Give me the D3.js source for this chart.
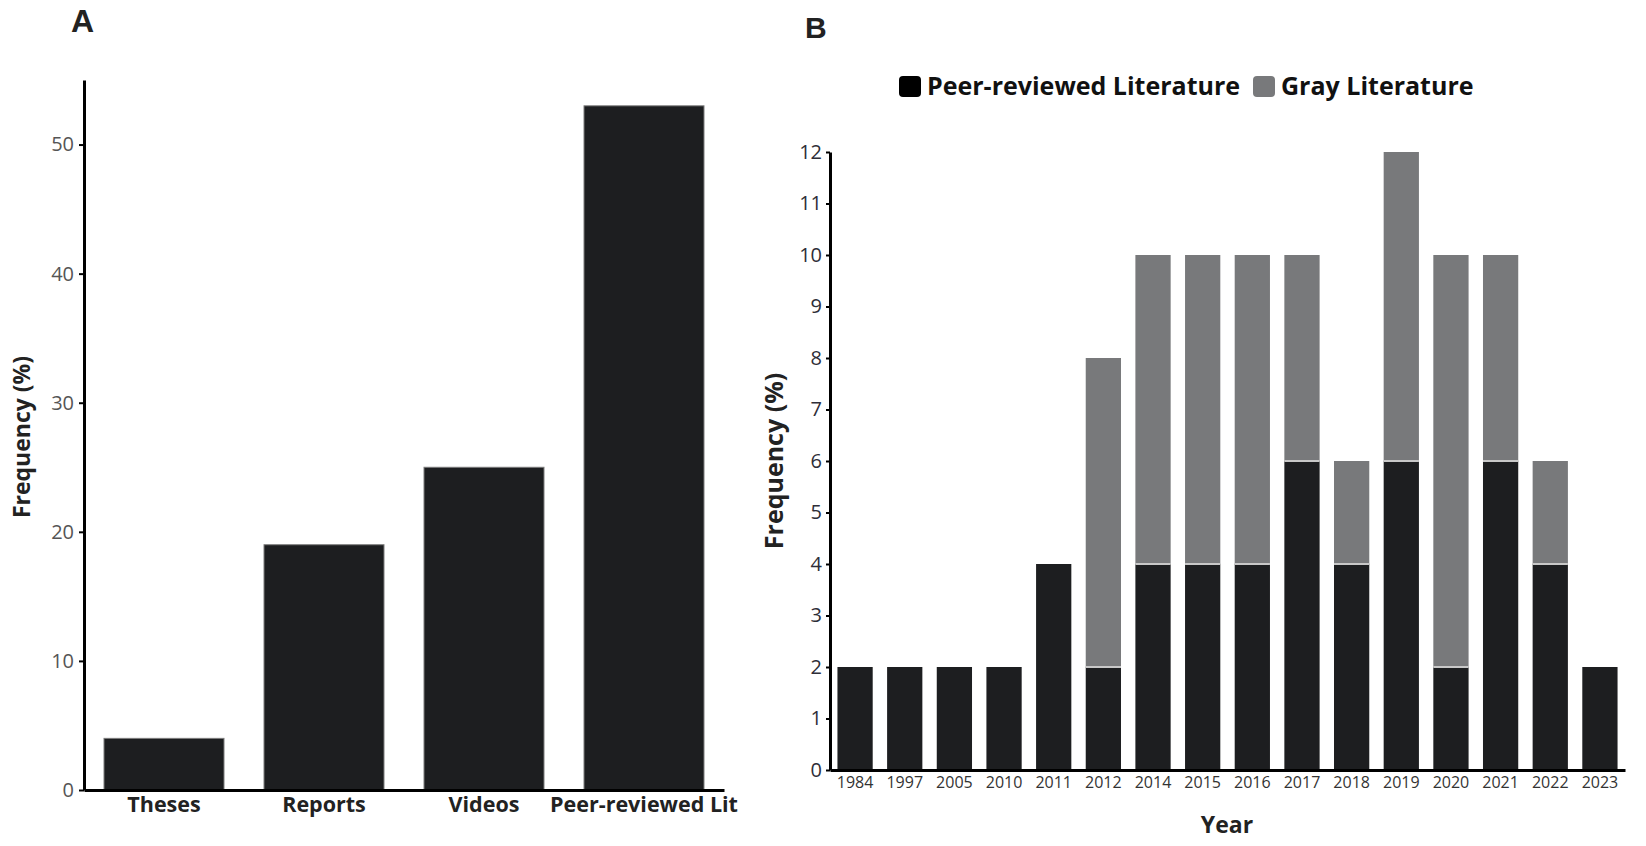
<!DOCTYPE html>
<html>
<head>
<meta charset="utf-8">
<script src="https://cdn.jsdelivr.net/npm/d3@7"></script>
<style>
  html, body { margin: 0; padding: 0; background: #fff; }
  svg { display: block; font-family: "Open Sans", "Noto Sans", sans-serif; }
</style>
</head>
<body>
<svg id="chart" width="1646" height="846"></svg>
<script>
// ---- Panel A data ----
const typeCategories = ["Theses", "Reports", "Videos", "Peer-reviewed Lit"];
const typeValues = [4, 19, 25, 53];
const aTicks = [0, 10, 20, 30, 40, 50];

// ---- Panel B data ----
const years = ["1984","1997","2005","2010","2011","2012","2014","2015","2016","2017","2018","2019","2020","2021","2022","2023"];
const peerValues = [2, 2, 2, 2, 4, 2, 4, 4, 4, 6, 4, 6, 2, 6, 4, 2];
const grayValues = [0, 0, 0, 0, 0, 6, 6, 6, 6, 4, 2, 6, 8, 4, 2, 0];
const bTicks = [0,1,2,3,4,5,6,7,8,9,10,11,12];
const seriesNames = ["Peer-reviewed Literature", "Gray Literature"];

const BLACK = "#1d1e20", GRAY = "#78797b";

const svg = d3.select("#chart");

// ================= Panel A =================
const ax = d3.scaleBand().domain(typeCategories).range([84, 724]).paddingInner(0.25).paddingOuter(0.125);
const ay = d3.scaleLinear().domain([0, 55]).range([790, 80]);

const gA = svg.append("g");
gA.selectAll("rect.bar").data(typeCategories).join("rect")
  .attr("class", "bar")
  .attr("x", d => ax(d))
  .attr("width", ax.bandwidth())
  .attr("y", (d, i) => ay(typeValues[i]))
  .attr("height", (d, i) => ay(0) - ay(typeValues[i]))
  .attr("fill", BLACK)
  .attr("stroke", "#7c7c7c")
  .attr("stroke-width", 1);

const yAxisA = gA.append("g").attr("transform", "translate(84,0)")
  .call(d3.axisLeft(ay).tickValues(aTicks).tickSize(5).tickPadding(5).tickSizeOuter(0));
yAxisA.select(".domain").attr("stroke", "#000").attr("stroke-width", 3);
yAxisA.selectAll(".tick line").attr("stroke", "#000").attr("stroke-width", 2);
yAxisA.selectAll(".tick text").attr("font-size", 20).attr("fill", "#555").attr("font-family", "Open Sans");

const xAxisA = gA.append("g").attr("transform", "translate(0,790)")
  .call(d3.axisBottom(ax).tickSize(0).tickPadding(6).tickSizeOuter(0));
xAxisA.select(".domain").attr("stroke", "#000").attr("stroke-width", 3);
xAxisA.selectAll(".tick text").attr("font-size", 21.5).attr("font-weight", 700)
  .attr("fill", "#222").attr("font-family", "Open Sans").attr("dy", "0.75em");

gA.append("text").attr("transform", "translate(30,437) rotate(-90)")
  .attr("text-anchor", "middle").attr("font-size", 23).attr("font-weight", 700).attr("fill", "#222")
  .text("Frequency (%)");

svg.append("text").attr("x", 71).attr("y", 32).attr("font-size", 32).attr("font-weight", 700)
  .attr("font-family", "Liberation Sans, Arial, sans-serif").attr("fill", "#222").text("A");

// ================= Panel B =================
const bx = d3.scaleBand().domain(years).range([830, 1625]).paddingInner(0.29).paddingOuter(0.15);
const by = d3.scaleLinear().domain([0, 12]).range([770, 152]);

const gB = svg.append("g");
const stackData = years.map((y, i) => ({ year: y, peer: peerValues[i], gray: grayValues[i] }));
const stacked = d3.stack().keys(["peer", "gray"])(stackData);
const colors = { peer: BLACK, gray: GRAY };

gB.selectAll("g.layer").data(stacked).join("g").attr("class", "layer")
  .attr("fill", d => colors[d.key])
  .selectAll("rect").data(d => d).join("rect")
  .attr("x", d => bx(d.data.year))
  .attr("width", bx.bandwidth())
  .attr("y", d => by(d[1]))
  .attr("height", d => by(d[0]) - by(d[1]));

// light separators between segments
gB.selectAll("line.sep").data(stackData.filter(d => d.gray > 0)).join("line")
  .attr("class", "sep")
  .attr("x1", d => bx(d.year)).attr("x2", d => bx(d.year) + bx.bandwidth())
  .attr("y1", d => by(d.peer)).attr("y2", d => by(d.peer))
  .attr("stroke", "#c8c8c8").attr("stroke-width", 2);

const yAxisB = gB.append("g").attr("transform", "translate(830,0)")
  .call(d3.axisLeft(by).tickValues(bTicks).tickSize(4).tickPadding(4).tickSizeOuter(0));
yAxisB.select(".domain").attr("stroke", "#000").attr("stroke-width", 3);
yAxisB.selectAll(".tick line").attr("stroke", "#000").attr("stroke-width", 2);
yAxisB.selectAll(".tick text").attr("font-size", 20).attr("fill", "#2e2e38").attr("font-family", "Open Sans");

const xAxisB = gB.append("g").attr("transform", "translate(0,770)")
  .call(d3.axisBottom(bx).tickSize(0).tickPadding(6).tickSizeOuter(0));
xAxisB.select(".domain").attr("stroke", "#000").attr("stroke-width", 3);
xAxisB.selectAll(".tick text").attr("font-size", 16).attr("fill", "#333")
  .attr("font-family", "Open Sans").attr("dy", "0.75em");

gB.append("text").attr("transform", "translate(783,461) rotate(-90)")
  .attr("text-anchor", "middle").attr("font-size", 25).attr("font-weight", 700).attr("fill", "#222")
  .text("Frequency (%)");

gB.append("text").attr("x", 1227).attr("y", 833).attr("text-anchor", "middle")
  .attr("font-size", 23).attr("font-weight", 700).attr("fill", "#222").text("Year");

svg.append("text").attr("x", 805).attr("y", 38).attr("font-size", 30).attr("font-weight", 700)
  .attr("font-family", "Liberation Sans, Arial, sans-serif").attr("fill", "#222").text("B");

// Legend
const legendX = [899, 1253];
const legend = svg.append("g");
const li = legend.selectAll("g").data(seriesNames).join("g")
  .attr("transform", (d, i) => `translate(${legendX[i]},76)`);
li.append("rect").attr("width", 22).attr("height", 21).attr("rx", 4)
  .attr("fill", (d, i) => i === 0 ? "#000" : GRAY);
li.append("text").attr("x", 28).attr("y", 19).attr("font-size", 25).attr("font-weight", 700)
  .attr("fill", "#111").text(d => d);
</script>
</body>
</html>
